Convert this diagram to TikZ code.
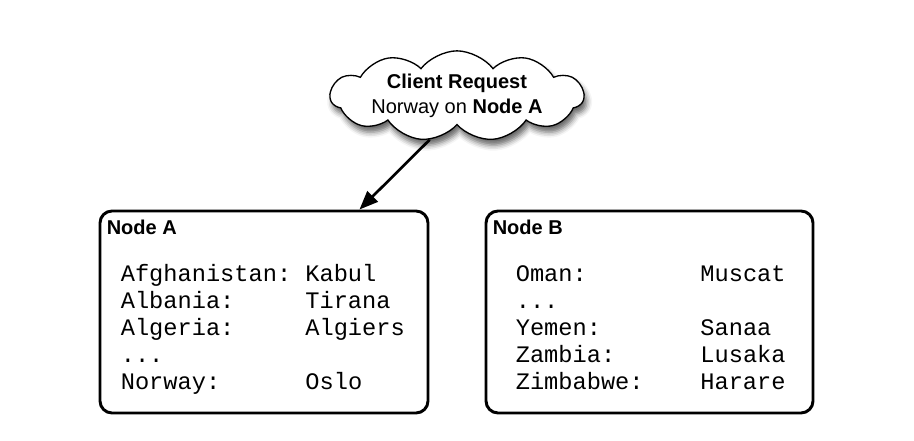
\documentclass[tikz,border=0pt]{standalone}
\usepackage{fontspec}
\setmainfont{Liberation Sans}
\setmonofont{Liberation Mono}
\usetikzlibrary{positioning, arrows.meta, shapes.symbols, shadows.blur}

% one row of a partition: country padded to 13 characters, then capital
\newcommand{\entry}[2]{\makebox[7.8em][l]{#1}#2}

\begin{document}
\begin{tikzpicture}[x=0.75pt, y=-0.75pt]
    \useasboundingbox (0, 0) rectangle (914, 441);

    \begin{scope}[every node/.style={draw, rounded corners=9pt, line width=2.2pt,
                                     minimum height=151.5pt}]
        \node[minimum width=246pt]    (boxA) at (264, 312)   {};
        \node[minimum width=245.25pt] (boxB) at (649.5, 312) {};
    \end{scope}

    \node[cloud, draw, cloud puffs=11, cloud puff arc=105, cloud ignores aspect,
          line width=1pt, inner xsep=2pt, inner ysep=-1pt,
          minimum width=190pt, minimum height=40pt, fill=white,
          blur shadow={shadow xshift=2pt, shadow yshift=-4.5pt,
                       shadow blur radius=4pt, shadow opacity=60},
          align=center, font=\fontsize{15}{18.75}\selectfont]
        (request) at (457, 96) {\textbf{Client Request}\\Norway on \textbf{Node A}};

    \begin{scope}[line width=2pt]
        \draw[-{Triangle[length=14pt, width=11pt]}] (request.238) -- ([xshift=-52.5pt]boxA.north east);
    \end{scope}

    \begin{scope}[every node/.style={inner sep=0pt, font=\fontsize{15}{18}\selectfont\bfseries}]
        \node[below right = 8pt and 6pt of boxA.north west] (labelA) {Node A};
        \node[below right = 8pt and 6pt of boxB.north west] (labelB) {Node B};
    \end{scope}

    \begin{scope}[every node/.style={inner sep=0pt, font=\ttfamily\fontsize{17.75}{20.25}\selectfont}]
        \node[below right = 39.75pt and 16.5pt of boxA.north west] (tableA) {
            \begin{tabular}[t]{@{}l@{}}
                \entry{Afghanistan:}{Kabul}   \\
                \entry{Albania:}{Tirana}      \\
                \entry{Algeria:}{Algiers}     \\
                ...                           \\
                \entry{Norway:}{Oslo}         \\
            \end{tabular}
        };

        \node[below right = 39.75pt and 23.25pt of boxB.north west] (tableB) {
            \begin{tabular}[t]{@{}l@{}}
                \entry{Oman:}{Muscat}         \\
                ...                           \\
                \entry{Yemen:}{Sanaa}         \\
                \entry{Zambia:}{Lusaka}       \\
                \entry{Zimbabwe:}{Harare}     \\
            \end{tabular}
        };
    \end{scope}
\end{tikzpicture}
\end{document}
